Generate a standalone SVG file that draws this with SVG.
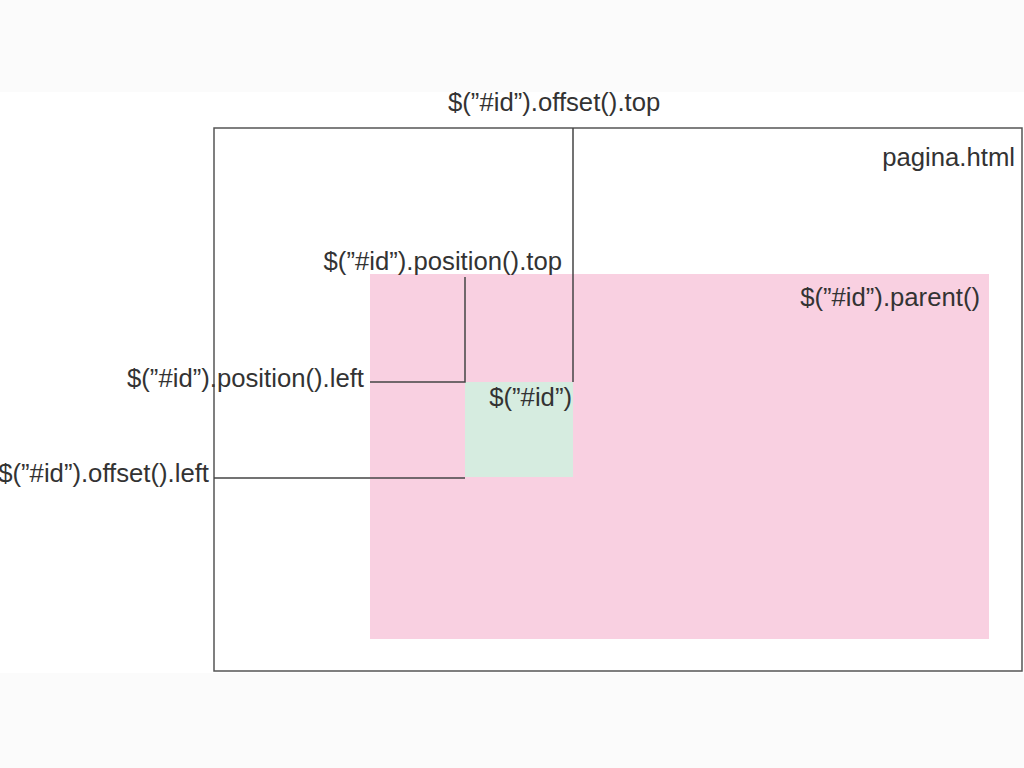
<svg xmlns="http://www.w3.org/2000/svg" width="1024" height="768" viewBox="0 0 1024 768">
<style>
text{font-family:"Liberation Sans",Arial,sans-serif;font-size:25.7px;fill:#333}
.ln{stroke:#444;stroke-width:1.5;fill:none}
.e{text-anchor:end}
</style>
<rect x="0" y="0" width="1024" height="768" fill="#fff"/>
<rect x="0" y="0" width="1024" height="92" fill="#fbfbfb"/>
<rect x="0" y="673" width="1024" height="95" fill="#fbfbfb"/>
<g id="page">
<rect x="214" y="128" width="808" height="543" fill="#fff" stroke="#555" stroke-width="1.5"/>
<text class="e" x="1015" y="166">pagina.html</text>
</g>
<g id="parent">
<rect x="370" y="274" width="619" height="365" fill="#f9d0e1"/>
<text class="e" x="980" y="306">$(”#id”).parent()</text>
</g>
<g id="element">
<rect x="465" y="382" width="108" height="95" fill="#d6ece0"/>
<text class="e" x="572" y="406">$(”#id”)</text>
</g>
<g id="connectors">
<polyline class="ln" points="573,128 573,382"/>
<polyline class="ln" points="465,277 465,382 370,382"/>
<polyline class="ln" points="214,478 465,478"/>
</g>
<g id="labels">
<text x="448" y="111">$(”#id”).offset().top</text>
<text class="e" x="562" y="270">$(”#id”).position().top</text>
<text class="e" x="364" y="387">$(”#id”).position().left</text>
<text class="e" x="209" y="482">$(”#id”).offset().left</text>
</g>
</svg>
